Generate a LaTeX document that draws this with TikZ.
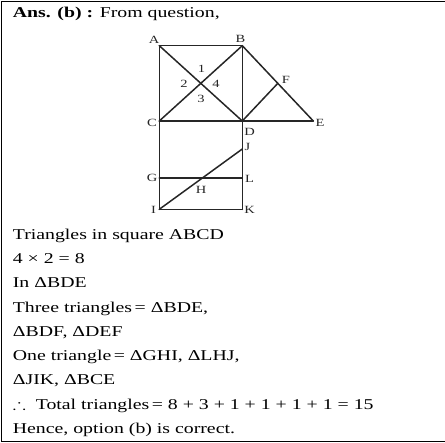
\documentclass[tikz,border=0pt]{standalone}
\usepackage{amssymb}
\usepackage{fontspec}
\setmainfont{Liberation Serif}[FakeStretch=1.32]
\usepackage{tikz}
\usetikzlibrary{calc}
\tikzstyle{tsEdge} = [
    line width=1.5pt,
    draw=black!85,
    line cap=round,
    line join=round]
\tikzstyle{tsFrame} = [
    line width=1.3pt,
    draw=black]
\tikzstyle{tsPoint} = [
    inner sep=0pt,
    text=black!85,
    font=\fontsize{11}{11}\selectfont]
\tikzstyle{tsLine} = [
    anchor=base west,
    inner sep=0pt,
    text=black,
    font=\fontsize{15}{15}\selectfont]

\begin{document}
\begin{tikzpicture}[x=1pt, y=-1pt]
        \useasboundingbox (0,0) rectangle (445,443);

        % frame: top, left, bottom
        \draw[tsFrame] (445,1.5) -- (1.5,1.5) -- (1.5,441.5) -- (445,441.5);

        % points of the figure
        \coordinate (A) at (159.3,45.7);
        \coordinate (B) at (242.3,45.7);
        \coordinate (C) at (159.3,121);
        \coordinate (D) at (242.3,121);
        \coordinate (E) at (313.3,121);
        \coordinate (F) at ($(B)!0.5!(E)$);
        \coordinate (J) at (242.3,149);
        \coordinate (G) at (159.3,178);
        \coordinate (L) at (242.3,178);
        \coordinate (I) at (159.3,209.3);
        \coordinate (K) at (242.3,209.3);
        \coordinate (H) at (intersection of I--J and G--L);

        \draw[tsEdge] (A) -- (B);
        \draw[tsEdge] (A) -- (I);
        \draw[tsEdge] (B) -- (K);
        \draw[tsEdge] (C) -- (E);
        \draw[tsEdge] (G) -- (L);
        \draw[tsEdge] (I) -- (K);
        \draw[tsEdge] (A) -- (D);
        \draw[tsEdge] (B) -- (C);
        \draw[tsEdge] (B) -- (E);
        \draw[tsEdge] (D) -- (F);
        \draw[tsEdge] (I) -- (J);

        \node[tsPoint] (lA) at (154,39.5) {A};
        \node[tsPoint] (lB) at (240.5,39) {B};
        \node[tsPoint] (lC) at (152,123) {C};
        \node[tsPoint] (lD) at (249.5,132) {D};
        \node[tsPoint] (lE) at (320,123) {E};
        \node[tsPoint] (lF) at (286,80) {F};
        \node[tsPoint] (lJ) at (247.5,147) {J};
        \node[tsPoint] (lG) at (152,178) {G};
        \node[tsPoint] (lL) at (249.5,179) {L};
        \node[tsPoint] (lH) at (201,189.5) {H};
        \node[tsPoint] (lI) at (153.5,209.5) {I};
        \node[tsPoint] (lK) at (249.5,210) {K};

        \node[tsPoint] (n1) at (201.5,68.5) {1};
        \node[tsPoint] (n2) at (184,83.5) {2};
        \node[tsPoint] (n4) at (216,83.5) {4};
        \node[tsPoint] (n3) at (201,98.5) {3};

        % answer text
        \node[tsLine] (head) at (12.7,18) {\textbf{Ans. (b) :} From question,};
        \node[tsLine] (t1) at (12.7,239.3) {Triangles in square ABCD};
        \node[tsLine] (t2) at (12.7,263.55) {4 × 2 = 8};
        \node[tsLine] (t3) at (12.7,287.8) {In ΔBDE};
        \node[tsLine] (t4) at (12.7,312.05) {Three triangles\,= ΔBDE,};
        \node[tsLine] (t5) at (12.7,336.3) {ΔBDF, ΔDEF};
        \node[tsLine] (t6) at (12.7,360.55) {One triangle\,= ΔGHI, ΔLHJ,};
        \node[tsLine] (t7) at (12.7,384.8) {ΔJIK, ΔBCE};
        \node[tsLine] (t8) at (12.7,409.05) {\scalebox{1.3}[1]{$\therefore$}\ \ Total triangles\,= 8 + 3 + 1 + 1 + 1 + 1 = 15};
        \node[tsLine] (t9) at (12.7,433.3) {Hence, option (b) is correct.};
\end{tikzpicture}
\end{document}
